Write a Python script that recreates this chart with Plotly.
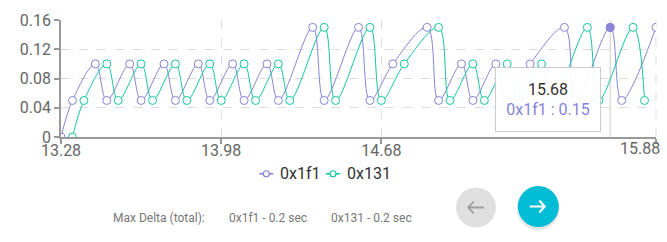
import plotly.graph_objects as go

# ---------------- data ----------------
series_a_name = "0x1f1"
series_a_x = [13.28, 13.33, 13.43, 13.48, 13.58, 13.63, 13.73, 13.78, 13.88, 13.93,
              14.03, 14.08, 14.18, 14.23, 14.38, 14.43, 14.58, 14.63, 14.73, 14.88,
              14.93, 15.03, 15.08, 15.18, 15.23, 15.33, 15.48, 15.53, 15.68, 15.73, 15.88]
series_a_y = [0, 0.05, 0.1, 0.05, 0.1, 0.05, 0.1, 0.05, 0.1, 0.05,
              0.1, 0.05, 0.1, 0.05, 0.15, 0.05, 0.15, 0.05, 0.1, 0.15,
              0.05, 0.1, 0.05, 0.1, 0.05, 0.1, 0.15, 0.05, 0.15, 0.05, 0.15]

series_b_name = "0x131"
series_b_x = [13.33, 13.38, 13.48, 13.53, 13.63, 13.68, 13.78, 13.83, 13.93, 13.98,
              14.08, 14.13, 14.23, 14.28, 14.43, 14.48, 14.63, 14.68, 14.78, 14.93,
              14.98, 15.08, 15.13, 15.23, 15.28, 15.38, 15.43, 15.58, 15.63, 15.78, 15.83]
series_b_y = [0, 0.05, 0.1, 0.05, 0.1, 0.05, 0.1, 0.05, 0.1, 0.05,
              0.1, 0.05, 0.1, 0.05, 0.15, 0.05, 0.15, 0.05, 0.1, 0.15,
              0.05, 0.1, 0.05, 0.1, 0.05, 0.1, 0.05, 0.15, 0.05, 0.15, 0.05]

x_tick_vals = [13.28, 13.98, 14.68, 15.88]
x_tick_text = ["13.28", "13.98", "14.68", "15.88"]
y_tick_vals = [0, 0.04, 0.08, 0.12, 0.16]
y_tick_text = ["0", "0.04", "0.08", "0.12", "0.16"]

hover_index = 28  # hovered point of series A (15.68 : 0.15)

summary_label = "Max Delta (total):"
summary_items = ["0x1f1 - 0.2 sec", "0x131 - 0.2 sec"]

# ---------------- style ----------------
COLOR_A = "#8884d8"
COLOR_B = "#14c7a0"
FONT = "Roboto, Arial, sans-serif"

PLOT_L, PLOT_R, PLOT_T, PLOT_B = 61, 656, 15, 137.5
def px(x):
    return (x - PLOT_L) / (PLOT_R - PLOT_L)
def py(y):
    return (PLOT_B - y) / (PLOT_B - PLOT_T)

fig = go.Figure()

for name, xs, ys, col in [(series_a_name, series_a_x, series_a_y, COLOR_A),
                          (series_b_name, series_b_x, series_b_y, COLOR_B)]:
    fig.add_trace(go.Scatter(
        x=xs, y=ys, name=name, mode="lines+markers",
        line=dict(color=col, width=1, shape="spline", smoothing=1.0),
        marker=dict(symbol="circle", size=8, color="white",
                    line=dict(color=col, width=1)),
        hoverinfo="skip", showlegend=False,
    ))

# hovered (active) point
hx = series_a_x[hover_index]
hy = series_a_y[hover_index]
fig.add_trace(go.Scatter(
    x=[hx], y=[hy], mode="markers", showlegend=False, hoverinfo="skip",
    marker=dict(symbol="circle", size=8, color=COLOR_A, line=dict(color=COLOR_A, width=1)),
))

shapes = []
annotations = []

# cursor line
shapes.append(dict(type="line", xref="x", yref="paper", x0=hx, x1=hx, y0=0, y1=1,
                   line=dict(color="#cccccc", width=1), layer="below"))

# right-edge dashed grid line
shapes.append(dict(type="line", xref="paper", yref="paper", x0=1, x1=1, y0=0, y1=1,
                   line=dict(color="#dddddd", width=1, dash="dash"), layer="below"))

# last x tick label kept inside the chart (end-aligned, like the reference)
tick_text_shown = x_tick_text[:-1] + [""]
annotations.append(dict(xref="x", yref="paper", x=x_tick_vals[-1], y=py(149.5), xanchor="right",
                        xshift=6, yanchor="middle", text=x_tick_text[-1], showarrow=False,
                        font=dict(family=FONT, size=16, color="#666666")))

# custom legend (line + circle icon, then label)
legend_items = [(series_a_name, COLOR_A, 266.3, 277.5), (series_b_name, COLOR_B, 333.0, 344.5)]
ly = py(176)
for name, col, icx, tx in legend_items:
    shapes.append(dict(type="line", xref="paper", yref="paper", xsizemode="pixel", ysizemode="pixel",
                       xanchor=px(icx), yanchor=ly, x0=-7, x1=7, y0=0, y1=0,
                       line=dict(color=col, width=1.5), layer="above"))
    shapes.append(dict(type="circle", xref="paper", yref="paper", xsizemode="pixel", ysizemode="pixel",
                       xanchor=px(icx), yanchor=ly, x0=-3, x1=3, y0=-3, y1=3,
                       fillcolor="white", line=dict(color=col, width=1.2), layer="above"))
    annotations.append(dict(xref="paper", yref="paper", x=px(tx), y=ly, xanchor="left",
                            yanchor="middle", text=name, showarrow=False,
                            font=dict(family=FONT, size=16, color="#333333")))

# nav buttons
def circle(cx, cy, r, color):
    return dict(type="circle", xref="paper", yref="paper", xsizemode="pixel", ysizemode="pixel",
                xanchor=cx, yanchor=cy, x0=-r, x1=r, y0=-r, y1=r,
                fillcolor=color, line=dict(width=0), layer="above")

gx, gy = px(476), py(211.3)
cx, cy = px(538.3), py(210.3)
shapes.append(circle(gx, gy, 20, "#e0e0e0"))
shapes.append(dict(type="circle", xref="paper", yref="paper", xsizemode="pixel", ysizemode="pixel",
                   xanchor=cx, yanchor=cy, x0=-21.5, x1=21.5, y0=-23.5, y1=19.5,
                   fillcolor="rgba(0,0,0,0.10)", line=dict(width=0), layer="above"))
shapes.append(circle(cx, cy, 20.5, "#00bcd4"))
shapes.append(dict(type="path", xref="paper", yref="paper", xsizemode="pixel", ysizemode="pixel",
                   xanchor=gx, yanchor=gy,
                   path="M -7.7 0 L 7.7 0 M -2.2 6 L -7.7 0 L -2.2 -6",
                   line=dict(color="#9e9e9e", width=1.8), layer="above"))
shapes.append(dict(type="path", xref="paper", yref="paper", xsizemode="pixel", ysizemode="pixel",
                   xanchor=cx, yanchor=cy,
                   path="M -8.5 0 L 6.5 0 M 1 6 L 6.5 0 L 1 -6",
                   line=dict(color="white", width=2), layer="above"))

# tooltip
annotations.append(dict(
    xref="paper", yref="paper", x=px(548), y=py(98.5), xanchor="center", yanchor="middle",
    text=f"<span style='color:#333333'>{hx:.2f}</span><br>"
         f"<span style='color:{COLOR_A}'>{series_a_name} : {hy}</span>",
    showarrow=False, align="center", width=104, height=63,
    bgcolor="rgba(255,255,255,0.95)", bordercolor="#cccccc", borderwidth=1, borderpad=0,
    font=dict(family=FONT, size=16),
))
# summary line
annotations.append(dict(xref="paper", yref="paper", x=px(110.7), y=py(222), xanchor="left",
                        yanchor="middle", text=summary_label, showarrow=False,
                        font=dict(family=FONT, size=12, color="#777777")))
for lx, txt in zip([226.7, 329.3], summary_items):
    annotations.append(dict(xref="paper", yref="paper", x=px(lx), y=py(222), xanchor="left",
                            yanchor="middle", text=txt, showarrow=False,
                            font=dict(family=FONT, size=12, color="#777777")))

axis_common = dict(
    showline=True, linecolor="#999999", linewidth=1.5,
    ticks="outside", ticklen=5, tickcolor="#999999", tickwidth=1.5,
    showgrid=True, gridcolor="#dddddd", gridwidth=1, griddash="dash",
    zeroline=False, tickfont=dict(family=FONT, size=16, color="#666666"),
)

fig.update_layout(
    width=667, height=242,
    margin=dict(l=61, r=11, t=15, b=105),
    paper_bgcolor="white", plot_bgcolor="white",
    font=dict(family=FONT),
    xaxis=dict(range=[13.2799, 15.8801], tickmode="array", tickvals=x_tick_vals,
               ticktext=tick_text_shown, ticklabelstandoff=-7, **axis_common),
    yaxis=dict(range=[0, 0.1601], tickmode="array", tickvals=y_tick_vals,
               ticktext=y_tick_text, **axis_common),
    showlegend=False,
    shapes=shapes,
    annotations=annotations,
    hovermode=False,
)

fig.write_html("out.html")
